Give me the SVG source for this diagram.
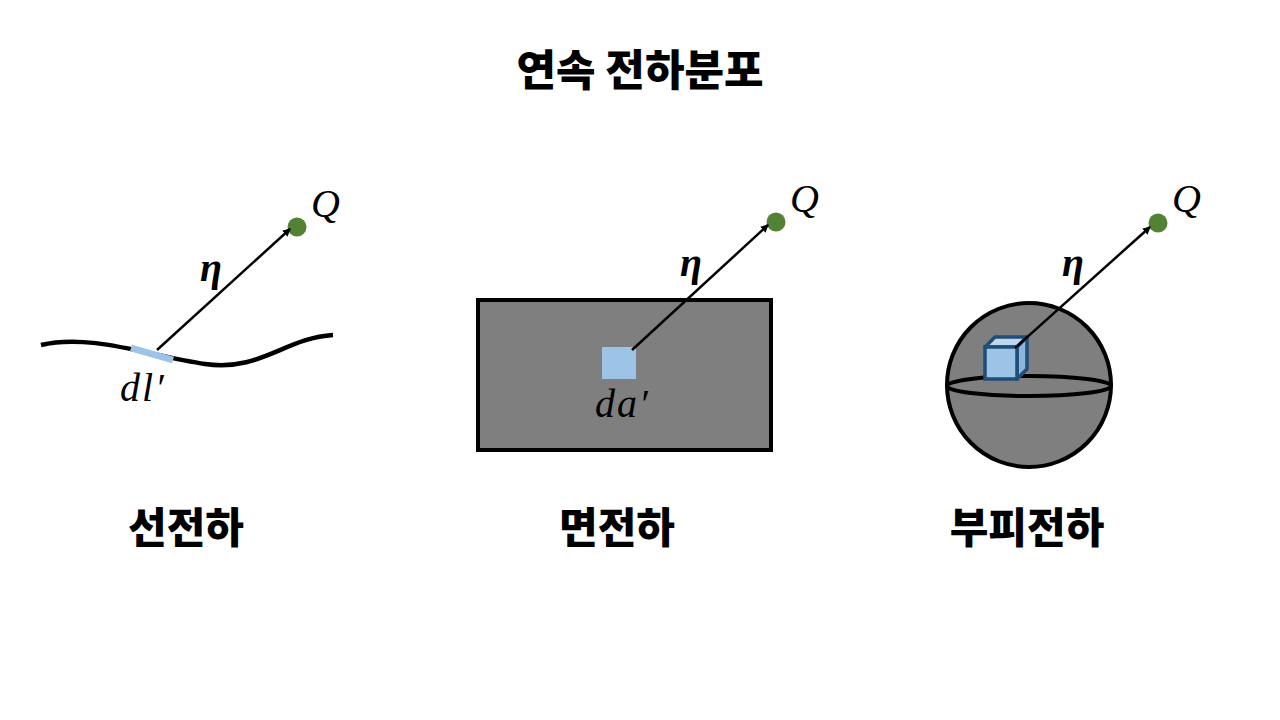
<svg xmlns="http://www.w3.org/2000/svg" width="1280" height="720" viewBox="0 0 1280 720">
<defs>
<style>
.title{font-family:"Noto Sans CJK KR",sans-serif;font-weight:900;font-size:43px;fill:#000}
.lbl{font-family:"Noto Sans CJK KR",sans-serif;font-weight:900;font-size:42px;fill:#000}
.m{font-family:"Liberation Serif","DejaVu Serif",serif;font-style:italic;font-size:40px;letter-spacing:2px;fill:#000}
.eta{font-family:"Liberation Serif","DejaVu Serif",serif;font-style:italic;font-weight:bold;font-size:40px;fill:#000}
.arr{stroke:#000;stroke-width:2.5;fill:none;marker-end:url(#ah)}
.dot{fill:#548235}
.blue{fill:#9DC3E6}
</style>
<marker id="ah" markerWidth="8" markerHeight="8" refX="7" refY="4" orient="auto" markerUnits="userSpaceOnUse" viewBox="0 0 8 8">
<path d="M0,0 L8,4 L0,8 Z" fill="#000"/>
</marker>
</defs>
<rect width="1280" height="720" fill="#fff"/>
<text class="title" x="640" y="86" text-anchor="middle">연속 전하분포</text>

<g id="line-charge">
<path d="M41,345 C90,333 150,356 205,364 C260,372 285,338 333,335" stroke="#000" stroke-width="4.5" fill="none"/>
<line x1="131" y1="348" x2="173" y2="360" stroke="#9DC3E6" stroke-width="7"/>
<circle class="dot" cx="297" cy="227" r="9.5"/>
<text class="m" x="311" y="217">Q</text>
<text class="eta" x="200" y="281">η</text>
<text class="m" x="120" y="401">dl′</text>
<text class="lbl" x="186" y="543" text-anchor="middle">선전하</text>
</g>

<g id="surface-charge">
<rect x="478" y="300" width="293" height="150" fill="#7F7F7F" stroke="#000" stroke-width="4"/>
<rect class="blue" x="602" y="347" width="34" height="32"/>
<circle class="dot" cx="776" cy="222" r="9.5"/>
<text class="m" x="790" y="212">Q</text>
<text class="eta" x="680" y="276">η</text>
<text class="m" x="595" y="417">da′</text>
<text class="lbl" x="617" y="543" text-anchor="middle">면전하</text>
</g>

<g id="volume-charge">
<circle cx="1029" cy="385" r="82" fill="#7F7F7F" stroke="#000" stroke-width="4"/>
<ellipse cx="1029" cy="386" rx="82" ry="10" fill="none" stroke="#000" stroke-width="4"/>
<path d="M985,347 L995,337 L1027,337 L1017,347 Z" fill="#BDD7EE" stroke="#1F4E79" stroke-width="3.5" stroke-linejoin="round"/>
<path d="M1017,347 L1027,337 L1027,369 L1017,379 Z" fill="#8FB4D9" stroke="#1F4E79" stroke-width="3.5" stroke-linejoin="round"/>
<rect class="blue" x="985" y="347" width="32" height="32" stroke="#1F4E79" stroke-width="3.5"/>
<circle class="dot" cx="1158" cy="223" r="9.5"/>
<text class="m" x="1172" y="212">Q</text>
<text class="eta" x="1062" y="276">η</text>
<text class="lbl" x="1027" y="543" text-anchor="middle">부피전하</text>
</g>

<g id="connectors">
<line class="arr" x1="157" y1="350" x2="290" y2="229"/>
<line class="arr" x1="632" y1="350" x2="768" y2="225"/>
<line class="arr" x1="1015" y1="348" x2="1150" y2="227"/>
</g>
</svg>
